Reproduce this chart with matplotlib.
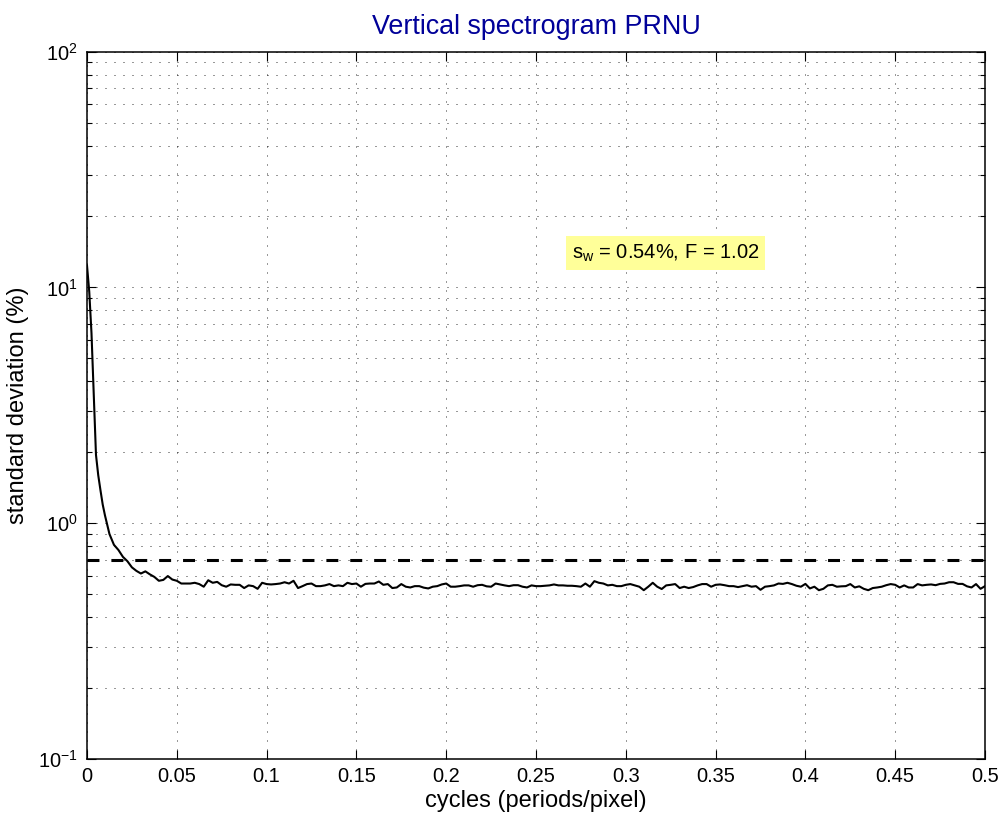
import numpy as np
import matplotlib
matplotlib.use("Agg")
import matplotlib.pyplot as plt
from matplotlib.ticker import LogLocator, FixedLocator, FixedFormatter, NullLocator

plt.rcParams['font.family'] = ['Liberation Sans', 'DejaVu Sans']
plt.rcParams['mathtext.fontset'] = 'custom'
plt.rcParams['mathtext.rm'] = 'Liberation Sans'
plt.rcParams['mathtext.it'] = 'Liberation Sans:italic'

# ---- data ----
# steep low-frequency part, sampled at half step
low_step = 0.00125
std_dev_low = [12.4, 9.6, 6.4, 3.5, 1.95, 1.6, 1.38, 1.2, 1.08]
# remainder, from 0.0125 to 0.5
main_step = 0.0025
std_dev_main = [
    0.90, 0.81, 0.77, 0.72, 0.69,
    0.650, 0.628, 0.612, 0.625, 0.607, 0.592, 0.570, 0.575, 0.597, 0.577,
    0.570, 0.555, 0.555, 0.555, 0.559, 0.552, 0.538, 0.573, 0.559, 0.564,
    0.546, 0.538, 0.550, 0.548, 0.548, 0.531, 0.545, 0.541, 0.527, 0.559,
    0.552, 0.550, 0.552, 0.555, 0.562, 0.555, 0.570, 0.531, 0.541, 0.552,
    0.555, 0.541, 0.541, 0.545, 0.552, 0.541, 0.545, 0.541, 0.559, 0.552,
    0.555, 0.538, 0.553, 0.555, 0.555, 0.566, 0.548, 0.552, 0.531, 0.534,
    0.552, 0.538, 0.534, 0.541, 0.541, 0.533, 0.529, 0.538, 0.541, 0.550,
    0.555, 0.538, 0.538, 0.541, 0.545, 0.545, 0.538, 0.546, 0.548, 0.540,
    0.538, 0.555, 0.550, 0.545, 0.541, 0.546, 0.546, 0.538, 0.534, 0.545,
    0.541, 0.541, 0.543, 0.545, 0.550, 0.545, 0.545, 0.543, 0.543, 0.541,
    0.538, 0.555, 0.538, 0.568, 0.559, 0.555, 0.545, 0.548, 0.541, 0.541,
    0.548, 0.552, 0.545, 0.538, 0.520, 0.538, 0.559, 0.538, 0.526, 0.545,
    0.548, 0.552, 0.531, 0.538, 0.531, 0.536, 0.545, 0.552, 0.552, 0.538,
    0.548, 0.550, 0.546, 0.541, 0.541, 0.536, 0.541, 0.546, 0.538, 0.541,
    0.522, 0.538, 0.541, 0.545, 0.555, 0.553, 0.559, 0.552, 0.543, 0.538,
    0.553, 0.529, 0.538, 0.520, 0.527, 0.545, 0.548, 0.538, 0.540, 0.541,
    0.552, 0.534, 0.540, 0.527, 0.520, 0.531, 0.534, 0.538, 0.546, 0.552,
    0.548, 0.534, 0.545, 0.534, 0.534, 0.552, 0.545, 0.548, 0.550, 0.546,
    0.553, 0.555, 0.562, 0.562, 0.553, 0.553, 0.540, 0.534, 0.552, 0.527,
    0.541,
]
freq_low = np.arange(len(std_dev_low)) * low_step
freq_main = 0.0125 + np.arange(len(std_dev_main)) * main_step
freq = np.concatenate([freq_low, freq_main])
std_dev = np.concatenate([std_dev_low, std_dev_main])

threshold = 0.70
x_ticks = [0, 0.05, 0.1, 0.15, 0.2, 0.25, 0.3, 0.35, 0.4, 0.45, 0.5]
x_ticklabels = ['0', '0.05', '0.1', '0.15', '0.2', '0.25', '0.3', '0.35', '0.4', '0.45', '0.5']
title = 'Vertical spectrogram PRNU'
xlabel = 'cycles (periods/pixel)'
ylabel = 'standard deviation (%)'
annot_text = r'$\mathregular{s_w}$ = 0.54%, F = 1.02'
annot_pos = (0.322, 14.0)

fig = plt.figure(figsize=(10.01, 8.18), dpi=100)
ax = fig.add_axes([87/1001, 1 - 759/818, (985 - 87)/1001, (759 - 51.7)/818])

ax.plot(freq, std_dev, color='black', lw=1.5, zorder=3)
dl = 8.6 / 2.2
ax.axhline(threshold, color='black', lw=2.2, linestyle=(0, (dl, dl)), zorder=3)

ax.set_yscale('log')
ax.set_xlim(0, 0.5)
ax.set_ylim(0.1, 100)

ax.xaxis.set_major_locator(FixedLocator(x_ticks))
ax.xaxis.set_major_formatter(FixedFormatter(x_ticklabels))
ax.xaxis.set_minor_locator(NullLocator())
ax.yaxis.set_major_locator(LogLocator(base=10, numticks=10))
ax.yaxis.set_minor_locator(LogLocator(base=10, subs=np.arange(2, 10), numticks=20))

grid_ls = (0, (1, 8))
ax.grid(True, which='major', axis='both', color='black', lw=0.72, linestyle=grid_ls, alpha=0.8)
ax.grid(True, which='minor', axis='y', color='black', lw=0.72, linestyle=grid_ls, alpha=0.8)

ax.tick_params(which='both', direction='in', top=True, right=True, width=0.8)
ax.tick_params(which='major', length=6.5, labelsize=14.4, pad=6)
ax.tick_params(which='minor', length=3.6)
ax.tick_params(axis='y', which='major', pad=7)
for s in ax.spines.values():
    s.set_linewidth(1.1)

ax.set_title(title, color='#000099', fontsize=19.4, pad=13)
ax.set_xlabel(xlabel, fontsize=17, labelpad=3)
ax.set_ylabel(ylabel, fontsize=17, labelpad=6)

ax.text(annot_pos[0], annot_pos[1], annot_text, fontsize=14.5, ha='center', va='center',
        bbox=dict(boxstyle='square,pad=0.3', facecolor='#ffff99', edgecolor='none'), zorder=4)

fig.savefig('out.png', dpi=100)
